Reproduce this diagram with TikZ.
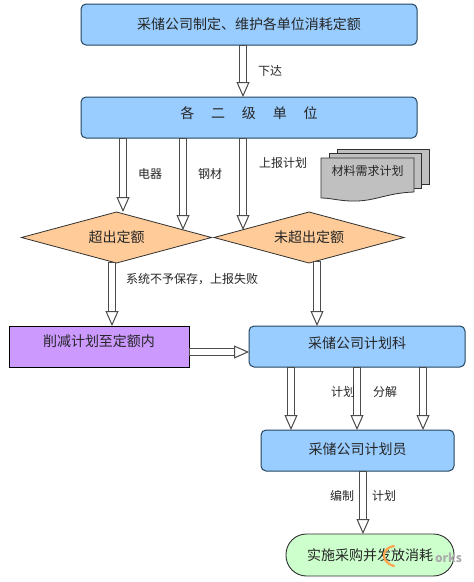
\documentclass[tikz,border=0pt]{standalone}
\usepackage{fontspec}
\setmainfont{Noto Sans CJK SC}
\usetikzlibrary{shapes.geometric,arrows.meta,calc}
\definecolor{bluefill}{HTML}{99CCFF}
\definecolor{edgeblue}{HTML}{24465E}
\definecolor{orangefill}{HTML}{FFCC99}
\definecolor{purplefill}{HTML}{CC99FF}
\definecolor{greenfill}{HTML}{CCFFCC}
\definecolor{docgray}{HTML}{C0C0C0}
\definecolor{edgedark}{HTML}{303030}
\newcommand\liftby[2]{\raisebox{\dimexpr#1-5.3pt\relax}[0pt][0pt]{#2}}
\tikzset{
  x=1pt,y=-1pt,
  every node/.style={inner sep=0pt,outer sep=0pt,text=black!85},
  bluebox/.style={draw=edgeblue,line width=1pt,fill=bluefill,rounded corners=5pt,font=\fontsize{14}{16}\selectfont},
  purplebox/.style={draw=black,line width=.9pt,fill=purplefill,font=\fontsize{14}{16}\selectfont},
  decision/.style={diamond,aspect=3.72,draw=edgedark,line width=.8pt,fill=orangefill,minimum width=190pt,minimum height=51pt,font=\fontsize{14}{16}\selectfont},
  terminal/.style={draw=edgedark,line width=.9pt,fill=greenfill,rounded corners=20.5pt,minimum width=168pt,minimum height=42pt,font=\fontsize{14}{16}\selectfont},
  lab/.style={font=\fontsize{12}{14}\selectfont},
  doc/.style={draw=edgedark,line width=.8pt,fill=docgray},
  shaftouter/.style={draw=black!70,line width=7.6pt,shorten >=13.5pt},
  shaftinner/.style={draw=white,line width=5.4pt,shorten >=13pt,shorten <=.6pt},
  hollowtip/.style={draw=black!70,line width=1pt,-{Triangle[open,fill=white,length=15pt,width=13pt,line width=1pt]}},
}
\newcommand\hollowarrow[2]{%
  \draw[shaftouter] (#1) -- (#2);
  \draw[shaftinner] (#1) -- (#2);
  \draw[hollowtip] ($(#2)!15pt!(#1)$) -- (#2);
}
\begin{document}
\begin{tikzpicture}
\useasboundingbox (0,0) rectangle (474,582);
\fill[white] (0,0) rectangle (474,582);
% nodes
\node[bluebox,minimum width=336pt,minimum height=41pt] (top) at (249,24.5) {采储公司制定、维护各单位消耗定额};
\node[bluebox,minimum width=336pt,minimum height=41pt] (unit) at (249,117.5) {\liftby{4pt}{各\hspace{1.2em}二\hspace{1.2em}级\hspace{1.2em}单\hspace{1.2em}位}};
\node[decision] (over) at (116.5,237.5) {超出定额};
\node[decision] (under) at (309,237.5) {未超出定额};
\node[purplebox,minimum width=180pt,minimum height=41pt] (cut) at (99,346.5) {\liftby{5.5pt}{削减计划至定额内}};
\node[bluebox,minimum width=216pt,minimum height=41pt] (dept) at (357,346.5) {\liftby{3.5pt}{采储公司计划科}};
\node[bluebox,minimum width=193pt,minimum height=41pt] (clerk) at (357.5,450.5) {\liftby{1.5pt}{采储公司计划员}};
\node[terminal] (end) at (370,555) {实施采购并发放消耗};
% document stack
\draw[doc] (337,149) -- (429,149) -- (429,184) -- (337,184) -- cycle;
\draw[doc] (329,153) -- (421,153) -- (421,188) -- (329,188) -- cycle;
\draw[doc] (321,158) -- (414,158) -- (414,192) .. controls (385,193) and (375,202) .. (350,201) .. controls (338,200.5) and (330,198) .. (321,198) -- cycle;
\node[lab] (doclabel) at (367.5,171) {材料需求计划};
% free ends
\coordinate (xa) at (123,0);
\coordinate (xb) at (183,0);
\coordinate (xc) at (243,0);
\coordinate (ea) at (123,212);
\coordinate (eb) at (183,230);
\coordinate (ec) at (243,230);
\coordinate (sd) at (112,262);
\coordinate (se) at (317,261);
\coordinate (xd) at (112,0);
\coordinate (xe) at (317,0);
\coordinate (yf) at (0,352);
\coordinate (xg) at (291,0);
\coordinate (xh) at (357,0);
\coordinate (xi) at (423,0);
\coordinate (xj) at (363,0);
% connectors
\hollowarrow{top.south -| xc}{unit.north -| xc}
\hollowarrow{unit.south -| xa}{ea}
\hollowarrow{unit.south -| xb}{eb}
\hollowarrow{unit.south -| xc}{ec}
\hollowarrow{sd}{cut.north -| xd}
\hollowarrow{se}{dept.north -| xe}
\hollowarrow{cut.east |- yf}{dept.west |- yf}
\hollowarrow{dept.south -| xg}{clerk.north -| xg}
\hollowarrow{dept.south -| xh}{clerk.north -| xh}
\hollowarrow{dept.south -| xi}{clerk.north -| xi}
\hollowarrow{clerk.south -| xj}{end.north -| xj}
% labels
\node[lab] (l1) at (270,71) {下达};
\node[lab] (l2) at (150,174) {电器};
\node[lab] (l3) at (210,174) {钢材};
\node[lab] (l4) at (283,163) {上报计划};
\node[lab] (l5) at (192,279) {系统不予保存，上报失败};
\node[lab] (l6) at (343,392) {计划};
\node[lab] (l7) at (385,392) {分解};
\node[lab] (l8) at (342,496) {编制};
\node[lab] (l9) at (384,496) {计划};
% watermark
\draw[orange!70,line width=2.2pt,line cap=round] (394,566) .. controls (380,562) and (381,548) .. (394,546);
\node[font=\bfseries\itshape\fontsize{12}{14}\selectfont,text=gray!65,anchor=west] (mark) at (435,558) {orks};
\end{tikzpicture}
\end{document}
